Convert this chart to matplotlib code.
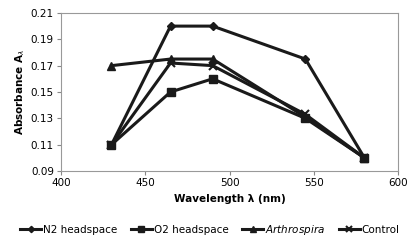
import matplotlib
matplotlib.use("Agg")
import matplotlib.pyplot as plt

# longitudes de onda y absorbancias
longitudes = [430, 465, 490, 545, 580]
n2_headspace = [0.11, 0.20, 0.20, 0.175, 0.10]
o2_headspace = [0.11, 0.15, 0.16, 0.13, 0.10]
arthrospira = [0.17, 0.175, 0.175, 0.131, 0.10]
control = [0.11, 0.172, 0.170, 0.133, 0.10]

plt.rcParams["font.family"] = ["DejaVu Sans"]

fig = plt.figure(figsize=(4.2, 2.44), dpi=100)
ax = fig.add_axes([0.145, 0.299, 0.803, 0.648])

ax.plot(longitudes, n2_headspace, marker="D", markersize=4, color="#1a1a1a", lw=2.2, label="N2 headspace")
ax.plot(longitudes, o2_headspace, marker="s", markersize=6, color="#1a1a1a", lw=2.2, label="O2 headspace")
ax.plot(longitudes, arthrospira, marker="^", markersize=6, color="#1a1a1a", lw=2.2, label="$\\it{Arthrospira}$")
ax.plot(longitudes, control, marker="x", markersize=6, mew=1.5, color="#1a1a1a", lw=2.2, label="Control")

ax.set_xlim(400, 600)
ax.set_ylim(0.09, 0.21)
ax.set_xticks([400, 450, 500, 550, 600])
ax.set_yticks([0.09, 0.11, 0.13, 0.15, 0.17, 0.19, 0.21])
ax.yaxis.set_major_formatter(plt.FuncFormatter(lambda v, p: f"{v:.2f}"))
ax.tick_params(labelsize=7.5, length=3, color="#888888", pad=2)

for lado in ax.spines.values():
    lado.set_color("#999999")
    lado.set_linewidth(0.8)

ax.set_xlabel("Wavelength λ (nm)", fontsize=7.5, fontweight="bold", labelpad=4)
ax.set_ylabel("Absorbance A$_{λ}$", fontsize=7.5, fontweight="bold", labelpad=3)

fig.legend(loc="lower center", bbox_to_anchor=(0.5, -0.01), ncol=4, frameon=False,
           fontsize=7.5, handlelength=2.0, handletextpad=0.2, columnspacing=1.3,
           markerscale=0.8)

fig.savefig("out.png", dpi=100)
